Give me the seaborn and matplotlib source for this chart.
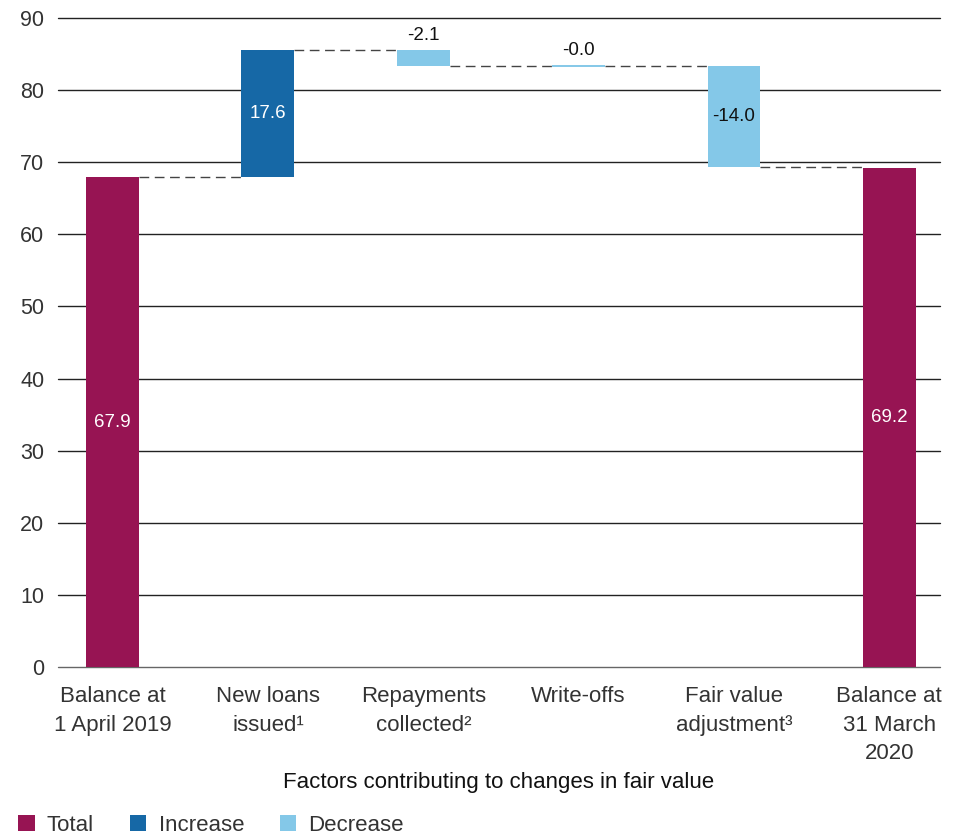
import numpy as np
import pandas as pd
import matplotlib
matplotlib.use("Agg")
import matplotlib.pyplot as plt
from matplotlib.patches import Patch
import seaborn as sns

categories = ["Balance at\n1 April 2019", "New loans\nissued¹", "Repayments\ncollected²",
              "Write-offs", "Fair value\nadjustment³", "Balance at\n31 March\n2020"]
changes = [67.9, 17.6, -2.1, -0.0, -14.0, 69.2]
kinds = ["Total", "Increase", "Decrease", "Decrease", "Decrease", "Total"]
value_labels = ["67.9", "17.6", "-2.1", "-0.0", "-14.0", "69.2"]
y_ticks = [0, 10, 20, 30, 40, 50, 60, 70, 80, 90]

colors = {"Total": "#971453", "Increase": "#1668A6", "Decrease": "#84C8E8"}

# floating bar extents for the waterfall
lows, highs = [], []
level = 0.0
for v, k in zip(changes, kinds):
    if k == "Total":
        lo, hi = 0.0, v
        level = v
    else:
        new = level + v
        lo, hi = min(level, new), max(level, new)
        level = new
    lows.append(lo)
    highs.append(hi)

df = pd.DataFrame({"cat": categories, "low": lows, "high": highs, "kind": kinds})
df["span"] = df["high"] - df["low"]

sns.set_theme(style="white")
plt.rcParams["font.family"] = ["Liberation Sans", "DejaVu Sans"]

fig = plt.figure(figsize=(9.61, 8.34), dpi=100)
ax = fig.add_axes([0.0604, 0.2002, 0.9176, 0.7782])

ax.set_ylim(0, 90)
ax.set_yticks(y_ticks)
for t in y_ticks:
    ax.axhline(t, color="#222222" if t else "#666666", lw=1.0, zorder=0, clip_on=False)

sns.barplot(data=df, x="cat", y="span", bottom=df["low"].values, color=colors["Total"],
            width=0.341, errorbar=None, ax=ax, zorder=2, saturation=1)
for patch, k, span in zip(ax.patches, df["kind"], df["span"]):
    patch.set_facecolor(colors[k])
    if span < 0.2:
        # keep a near-zero movement visible as a thin stroke
        patch.set_edgecolor(colors[k])
        patch.set_linewidth(1.4)
    else:
        patch.set_edgecolor("none")

ax.set_xlim(-0.351, 5.325)

# dashed connectors between consecutive bars
half = 0.341 / 2
level = 0.0
for i in range(len(changes) - 1):
    if kinds[i] == "Total":
        level = changes[i]
    else:
        level = level + changes[i]
    ax.plot([i + half, i + 1 - half], [level, level], color="#444444", lw=1.0,
            linestyle=(0, (7, 4)), zorder=1)

# value labels
for i, (lab, k) in enumerate(zip(value_labels, kinds)):
    lo, hi = lows[i], highs[i]
    if hi - lo > 5:
        ax.text(i, (lo + hi) / 2, lab, ha="center", va="center", fontsize=13.5,
                color="white" if k != "Decrease" else "#111111", zorder=4)
    else:
        ax.text(i, hi + 0.9, lab, ha="center", va="bottom", fontsize=13.5,
                color="#111111", zorder=4)

for s in ax.spines.values():
    s.set_visible(False)
ax.tick_params(axis="both", length=0, labelcolor="#333333")
ax.tick_params(axis="y", pad=10, labelsize=15.5)
ax.tick_params(axis="x", pad=14, labelsize=16)
ax.set_xticks(range(len(categories)))
ax.set_xticklabels(categories, linespacing=1.45)
ax.set_ylabel("")
ax.set_xlabel("Factors contributing to changes in fair value", fontsize=16,
              color="#111111", labelpad=6)

handles = [Patch(facecolor=colors[k], edgecolor="none", label=k)
           for k in ["Total", "Increase", "Decrease"]]
fig.legend(handles=handles, loc="lower left", bbox_to_anchor=(-0.002, -0.026), ncol=3,
           frameon=False, fontsize=16, handlelength=0.75, handleheight=0.75,
           handletextpad=0.55, columnspacing=1.6, labelcolor="#333333")

fig.savefig("out.png", dpi=100)
